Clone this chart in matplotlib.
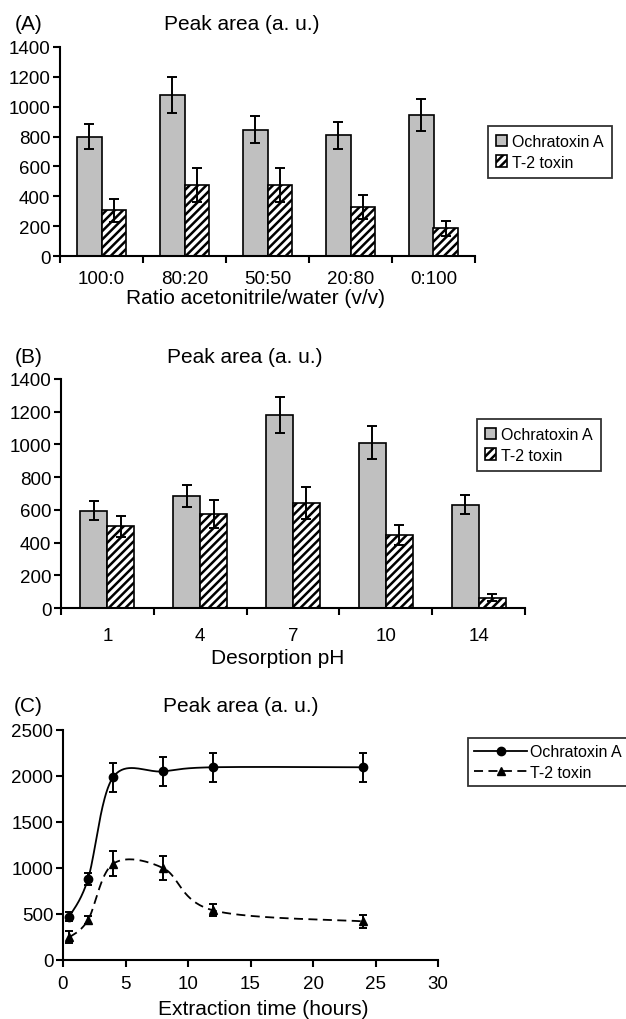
import numpy as np
import matplotlib.pyplot as plt
from matplotlib.lines import Line2D
from matplotlib.patches import Patch

plt.rcParams.update({
    'font.family': ['Liberation Sans', 'DejaVu Sans'],
    'hatch.linewidth': 1.8,
    'axes.linewidth': 1.5,
})

# Panel A: solvent ratio
ratio_labels = ['100:0', '80:20', '50:50', '20:80', '0:100']
ota_ratio = [800, 1080, 845, 810, 945]
ota_ratio_err = [85, 120, 90, 90, 110]
t2_ratio = [305, 475, 475, 330, 185]
t2_ratio_err = [80, 115, 115, 80, 50]

# Panel B: desorption pH
ph_labels = ['1', '4', '7', '10', '14']
ota_ph = [595, 685, 1182, 1010, 632]
ota_ph_err = [60, 70, 110, 100, 60]
t2_ph = [500, 576, 642, 448, 62]
t2_ph_err = [65, 85, 100, 60, 22]

# Panel C: extraction time
time_h = [0.5, 2, 4, 8, 12, 24]
ota_time = [470, 880, 1985, 2050, 2095, 2095]
ota_time_err = [50, 65, 160, 160, 160, 160]
t2_time = [245, 435, 1045, 1000, 540, 420]
t2_time_err = [65, 45, 135, 135, 65, 70]

W, H = 626, 1020
GRAY = '#c0c0c0'


def px_axes(fig, left, right, top, bottom):
    return fig.add_axes([left / W, 1 - bottom / H, (right - left) / W, (bottom - top) / H])


def style_axes(ax):
    for s in ['top', 'right']:
        ax.spines[s].set_visible(False)
    ax.tick_params(axis='both', which='major', direction='out', length=5, width=1.5,
                   labelsize=13.5, pad=2)


def bar_panel(ax, labels, ota, ota_err, t2, t2_err, label_pad):
    x = np.arange(len(labels))
    w = 0.29
    ax.bar(x - w / 2, ota, w, color=GRAY, edgecolor='black', linewidth=1.2,
           yerr=ota_err, error_kw=dict(ecolor='black', elinewidth=1.4, capsize=3.8, capthick=1.4))
    ax.bar(x + w / 2, t2, w, color='white', edgecolor='black', linewidth=1.2, hatch='////',
           yerr=t2_err, error_kw=dict(ecolor='black', elinewidth=1.4, capsize=3.8, capthick=1.4))
    ax.set_xlim(-0.5, len(labels) - 0.5)
    ax.set_ylim(0, 1400)
    ax.set_yticks(range(0, 1401, 200))
    ax.set_xticks(np.arange(len(labels) + 1) - 0.5)
    ax.set_xticklabels([])
    ax.set_xticks(x, minor=True)
    ax.set_xticklabels(labels, minor=True)
    style_axes(ax)
    ax.tick_params(axis='x', which='minor', length=0, labelsize=13.5, pad=label_pad)


def smooth(xs, ys, sx, sy, n=40):
    # Bezier smoothing like spreadsheet "smoothed line"
    P = np.column_stack([np.asarray(xs, float) * sx, np.asarray(ys, float) * sy])
    out = []
    t = np.linspace(0, 1, n)[:, None]
    for i in range(len(P) - 1):
        p0 = P[i - 1] if i > 0 else P[i]
        p1, p2 = P[i], P[i + 1]
        p3 = P[i + 2] if i + 2 < len(P) else P[i + 1]
        c1 = p1 + (p2 - p0) / 6
        c2 = p2 - (p3 - p1) / 6
        seg = ((1 - t) ** 3) * p1 + 3 * ((1 - t) ** 2) * t * c1 + 3 * (1 - t) * t ** 2 * c2 + t ** 3 * p2
        out.append(seg)
    out = np.vstack(out)
    return out[:, 0] / sx, out[:, 1] / sy


fig = plt.figure(figsize=(W / 100, H / 100), dpi=100)

# (A)
axA = px_axes(fig, 60, 475, 48, 257)
bar_panel(axA, ratio_labels, ota_ratio, ota_ratio_err, t2_ratio, t2_ratio_err, 10)
fig.text(15 / W, 1 - 25 / H, '(A)', fontsize=15, va='center', ha='left')
fig.text(242 / W, 1 - 25 / H, 'Peak area (a. u.)', fontsize=15, va='center', ha='center')
fig.text(256 / W, 1 - 298 / H, 'Ratio acetonitrile/water (v/v)', fontsize=15, va='center', ha='center')

# (B)
axB = px_axes(fig, 61, 525, 380, 609)
bar_panel(axB, ph_labels, ota_ph, ota_ph_err, t2_ph, t2_ph_err, 14)
fig.text(15 / W, 1 - 358 / H, '(B)', fontsize=15, va='center', ha='left')
fig.text(245 / W, 1 - 358 / H, 'Peak area (a. u.)', fontsize=15, va='center', ha='center')
fig.text(278 / W, 1 - 658 / H, 'Desorption pH', fontsize=15, va='center', ha='center')

bar_handles = [Patch(facecolor=GRAY, edgecolor='black', linewidth=1.2, label='Ochratoxin A'),
               Patch(facecolor='white', edgecolor='black', linewidth=1.2, hatch='////', label='T-2 toxin')]
for lx, ly in [(488, 127), (477, 420)]:
    leg = fig.legend(handles=bar_handles, loc='upper left', bbox_to_anchor=(lx / W, 1 - ly / H),
                     fontsize=11.5, frameon=True, fancybox=False, edgecolor='black',
                     handlelength=0.7, handleheight=0.7, handletextpad=0.3,
                     borderpad=0.5, labelspacing=0.35, borderaxespad=0)
    leg.get_frame().set_linewidth(1.3)

# (C)
axC = px_axes(fig, 63, 438, 731, 961)
sx, sy = 375 / 30, 230 / 2500
xs, ys = smooth(time_h, ota_time, sx, sy)
axC.plot(xs, ys, '-', color='black', linewidth=1.3)
axC.errorbar(time_h, ota_time, yerr=ota_time_err, fmt='o', color='black', markersize=6,
             elinewidth=1.4, capsize=3, capthick=1.4)
xs, ys = smooth(time_h, t2_time, sx, sy)
axC.plot(xs, ys, '--', color='black', linewidth=1.3, dashes=(5, 3))
axC.errorbar(time_h, t2_time, yerr=t2_time_err, fmt='^', color='black', markersize=6,
             elinewidth=1.4, capsize=3, capthick=1.4)
axC.set_xlim(0, 30)
axC.set_ylim(0, 2500)
axC.set_xticks(range(0, 31, 5))
axC.set_yticks(range(0, 2501, 500))
style_axes(axC)
axC.tick_params(axis='x', pad=6)
fig.text(14 / W, 1 - 707 / H, '(C)', fontsize=15, va='center', ha='left')
fig.text(241 / W, 1 - 707 / H, 'Peak area (a. u.)', fontsize=15, va='center', ha='center')
fig.text(263 / W, 1 - 1010 / H, 'Extraction time (hours)', fontsize=15, va='center', ha='center')

line_handles = [Line2D([], [], color='black', linestyle='-', marker='o', markersize=6, linewidth=1.3,
                       label='Ochratoxin A'),
                Line2D([], [], color='black', linestyle='--', dashes=(5, 3), marker='^', markersize=6,
                       linewidth=1.3, label='T-2 toxin')]
legC = fig.legend(handles=line_handles, loc='upper left', bbox_to_anchor=(468 / W, 1 - 739 / H),
                  fontsize=11.5, frameon=True, fancybox=False, edgecolor='black',
                  handlelength=3.3, handletextpad=0.2, borderpad=0.4, labelspacing=0.35,
                  borderaxespad=0)
legC.get_frame().set_linewidth(1.3)

fig.savefig('out.png', dpi=100)
